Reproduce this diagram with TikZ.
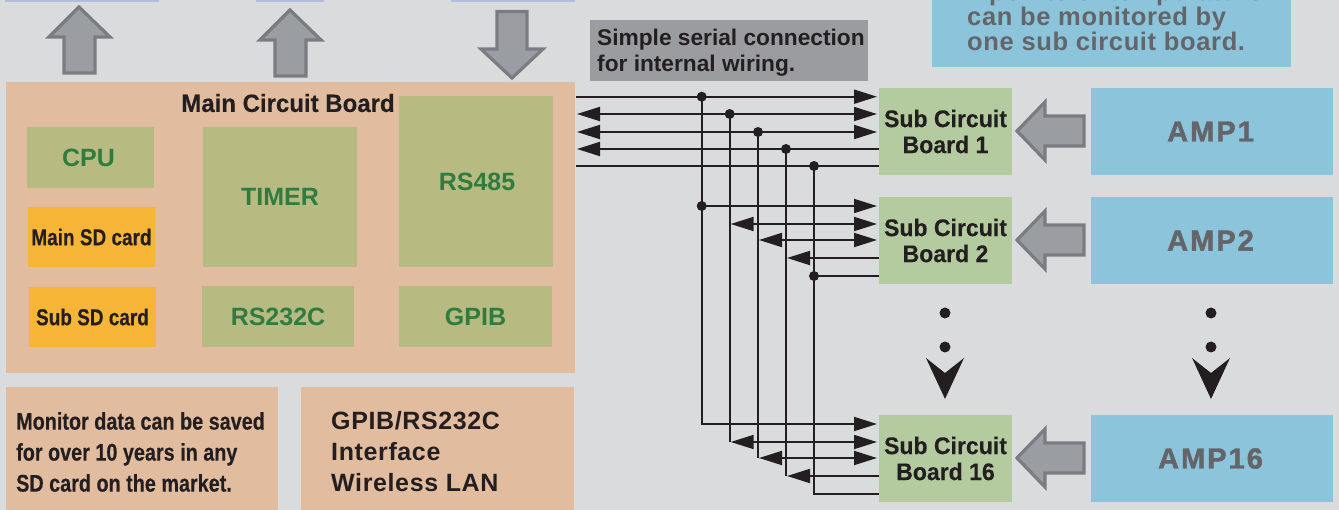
\documentclass[tikz,border=0pt]{standalone}
\usepackage{fontspec}
\setmainfont{Liberation Sans}[BoldFont={Liberation Sans Bold}]
\newfontfamily\cond[FakeStretch=0.825,FakeBold=0.3]{Liberation Sans Bold}
\newfontfamily\condb[FakeStretch=0.96,FakeBold=0.2]{Liberation Sans Bold}
\newfontfamily\wide[LetterSpace=7,FakeBold=1.5]{Liberation Sans Bold}
\newfontfamily\wider[LetterSpace=2.5]{Liberation Sans Bold}
\usetikzlibrary{arrows.meta,calc}
\definecolor{bg}{HTML}{DADBDD}
\definecolor{peach}{HTML}{E2BC9F}
\definecolor{olive}{HTML}{B7BB81}
\definecolor{orangeb}{HTML}{F7B538}
\definecolor{subg}{HTML}{B3CB9E}
\definecolor{ampb}{HTML}{8CC4DC}
\definecolor{grayb}{HTML}{9A9CA0}
\definecolor{lav}{HTML}{B4BCDC}
\definecolor{ink}{HTML}{231F20}
\definecolor{gtext}{HTML}{2F7B40}
\definecolor{gr}{HTML}{636569}
\definecolor{arrf}{HTML}{9A9DA1}
\definecolor{arrs}{HTML}{7B7C82}
\tikzset{
 chip/.style={fill=olive,text=gtext,font=\bfseries\fontsize{25}{28}\selectfont,inner sep=0pt,outer sep=0pt},
 sd/.style={fill=orangeb,text=ink,font=\cond\fontsize{23}{27}\selectfont,inner sep=0pt,outer sep=0pt},
 subb/.style={fill=subg,text=ink,font=\condb\fontsize{24}{26}\selectfont,align=center,inner sep=0pt,outer sep=0pt,minimum width=133pt,minimum height=87pt},
 ampbox/.style={fill=ampb,text=gr,font=\wide\fontsize{29}{30}\selectfont,inner sep=0pt,outer sep=0pt,minimum width=242pt,minimum height=87pt},
 blockarr/.style={fill=arrf,draw=arrs,line width=3.2pt,miter limit=6},
 wire/.style={draw=ink,line width=1.9pt},
 rtip/.style={-{Triangle[length=23pt,width=14pt]},shorten >=2pt},
 ltip/.style={{Triangle[length=23pt,width=14pt]}-,shorten <=1pt},
 btip/.style={{Triangle[length=23pt,width=14pt]}-{Triangle[length=23pt,width=14pt]},shorten >=2pt,shorten <=1pt},
 dotn/.style={circle,fill=ink,inner sep=0pt,outer sep=0pt,minimum size=10pt},
 bigdot/.style={circle,fill=ink,inner sep=0pt,outer sep=0pt,minimum size=11pt},
}
\begin{document}
\begin{tikzpicture}[x=1pt,y=-1pt]
\useasboundingbox (0,0) rectangle (1339,510);
\clip (0,0) rectangle (1339,510);
\fill[bg] (0,0) rectangle (1339,510);
% top strips
\fill[lav] (5,0) rectangle (159,2);
\fill[lav] (256,0) rectangle (324,2);
\fill[lav] (451,0) rectangle (575,2);
% big arrows
\draw[blockarr] (79,7) -- (110,37) -- (95,37) -- (95,73) -- (64,73) -- (64,37) -- (49,37) -- cycle;
\draw[blockarr] (290,10) -- (321,40) -- (306,40) -- (306,76) -- (275,76) -- (275,40) -- (260,40) -- cycle;
\draw[blockarr] (512,78) -- (481,49) -- (497,49) -- (497,11.5) -- (527,11.5) -- (527,49) -- (543,49) -- cycle;
% main board
\node[fill=peach,inner sep=0pt,outer sep=0pt,minimum width=569pt,minimum height=291pt] (main) at (290.5,227.5) {};
\node[font=\condb\fontsize{25}{28}\selectfont,text=ink,inner sep=0pt] (maint) at (288,103) {Main Circuit Board};
\node[chip,minimum width=127pt,minimum height=61pt] (cpu) at (90.5,157.5) {\raisebox{-1pt}{\hspace{-4pt}CPU}};
\node[chip,minimum width=154pt,minimum height=140pt] (timer) at (280,197) {TIMER};
\node[chip,minimum width=154pt,minimum height=171pt] (rs485) at (476,181.5) {\hspace{2pt}RS485};
\node[chip,minimum width=152pt,minimum height=61pt] (rs232) at (278,316.5) {RS232C};
\node[chip,minimum width=153pt,minimum height=61pt] (gpib) at (475.5,316.5) {GPIB};
\node[sd,minimum width=127pt,minimum height=60pt] (msd) at (91.5,237) {Main SD card};
\node[sd,minimum width=127pt,minimum height=60pt] (ssd) at (92.5,317) {Sub SD card};
% bottom boxes
\fill[peach] (6,387) rectangle (278,510);
\fill[peach] (301,387) rectangle (574,510);
\node[font=\cond\fontsize{24}{31}\selectfont,text=ink,align=left,anchor=west,inner sep=0pt] (note1) at (16,452) {Monitor data can be saved\\for over 10 years in any\\SD card on the market.};
\node[font=\wider\fontsize{25}{31}\selectfont,text=ink,align=left,anchor=west,inner sep=0pt] (note2) at (331,452) {GPIB/RS232C\\Interface\\Wireless LAN};
% gray note
\fill[grayb] (590,20) rectangle (868,81);
\node[font=\bfseries\fontsize{22.7}{26}\selectfont,text=ink,align=left,anchor=west,inner sep=0pt] (serial) at (597,53) {Simple serial connection\\for internal wiring.};
% blue note
\fill[ampb] (932,0) rectangle (1291,67);
\node[font=\wider\fontsize{25.5}{25}\selectfont,text=gr,align=left,anchor=base west,inner sep=0pt] (tnote) at (967,51) {2 points of temperature\\can be monitored by\\one sub circuit board.};
% sub boards & amps
\node[subb] (b1) at (945.5,131.5) {Sub Circuit\\Board 1};
\node[subb] (b2) at (945.5,240.5) {Sub Circuit\\Board 2};
\node[subb] (b3) at (945.5,458.5) {Sub Circuit\\Board 16};
\node[ampbox] (a1) at (1212,131.5) {\raisebox{-1.5pt}{\hspace{-3pt}AMP1}};
\node[ampbox] (a2) at (1212,240.5) {\hspace{-3pt}AMP2};
\node[ampbox] (a3) at (1212,458.5) {\hspace{-3pt}AMP16};
% small block arrows
\foreach \c in {131,240,458}{
 \draw[blockarr] (1017,\c) -- (1045,\c-29) -- (1045,\c-15) -- (1084,\c-15) -- (1084,\c+15) -- (1045,\c+15) -- (1045,\c+29) -- cycle;
}
% ellipsis dots and chevrons
\foreach \x/\n in {945/p,1211/q}{
 \node[bigdot] (\n1) at (\x,313) {};
 \node[bigdot] (\n2) at (\x,347) {};
 \fill[ink] (\x-19,358) -- (\x,373) -- (\x+19,358) -- (\x,399) -- cycle;
}
% terminals
\coordinate (m1) at (576,96.7);
\coordinate (m2) at (576,114);
\coordinate (m3) at (576,132);
\coordinate (m4) at (576,149);
\coordinate (m5) at (576,166);
\foreach \i/\y in {1/96.7,2/114,3/132,4/149,5/166}{\coordinate (p\i) at (879,\y);}
\foreach \i/\y in {1/206,2/224,3/240,4/258,5/276}{\coordinate (r\i) at (879,\y);}
\foreach \i/\y in {1/424,2/442,3/458,4/476,5/494}{\coordinate (s\i) at (879,\y);}
\foreach \i/\x/\y in {1/701.7/96.7,2/729.7/114,3/758/132,4/786/149,5/814/166}{\node[dotn] (j\i) at (\x,\y) {};}
\node[dotn] (k1) at (701.7,206) {};
\node[dotn] (k5) at (814,276) {};
\coordinate (k2) at (729.7,224);
\coordinate (k3) at (758,240);
\coordinate (k4) at (786,258);
\coordinate (l2) at (729.7,442);
\coordinate (l3) at (758,458);
\coordinate (l4) at (786,476);
% board 1 wires
\draw[wire,rtip] (m1) -- (p1);
\draw[wire,btip] (m2) -- (p2);
\draw[wire,btip] (m3) -- (p3);
\draw[wire,ltip] (m4) -- (p4);
\draw[wire] (m5) -- (p5);
% verticals + board 16
\draw[wire,rtip] (j1.center) |- (s1);
\draw[wire] (j2.center) -- (l2);
\draw[wire] (j3.center) -- (l3);
\draw[wire] (j4.center) -- (l4);
\draw[wire] (j5.center) |- (s5);
% board 2 wires
\draw[wire,rtip] (k1.center) -- (r1);
\draw[wire,btip] (k2) -- (r2);
\draw[wire,btip] (k3) -- (r3);
\draw[wire,ltip] (k4) -- (r4);
\draw[wire] (k5.center) -- (r5);
% board 16 wires
\draw[wire,btip] (l2) -- (s2);
\draw[wire,btip] (l3) -- (s3);
\draw[wire,ltip] (l4) -- (s4);
\end{tikzpicture}
\end{document}
